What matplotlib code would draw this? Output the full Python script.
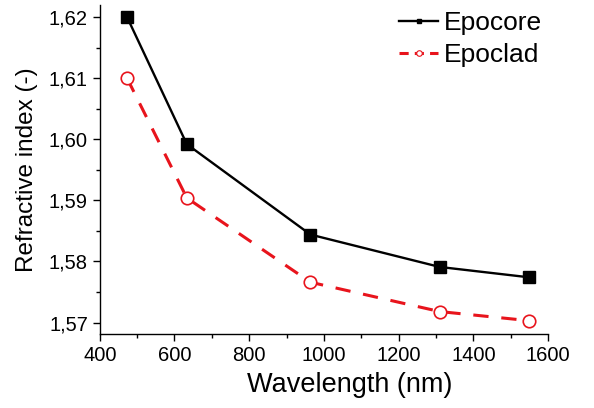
import matplotlib
matplotlib.use("Agg")
import matplotlib.pyplot as plt
from matplotlib.lines import Line2D
from matplotlib.ticker import MultipleLocator, FuncFormatter

plt.rcParams["font.family"] = ["Liberation Sans", "DejaVu Sans"]

# Data
wavelength = [473, 633, 964, 1310, 1550]
epocore = [1.6200, 1.5992, 1.5844, 1.5791, 1.5774]
epoclad = [1.6100, 1.5904, 1.5766, 1.5718, 1.5703]

fig = plt.figure(figsize=(5.94, 4.08), dpi=100)
ax = fig.add_axes([0.168, 0.181, 0.9226 - 0.168, 0.988 - 0.181])

ax.plot(wavelength, epocore, color="black", lw=1.7, marker="s",
        markersize=8, markerfacecolor="black", markeredgecolor="black")
ax.plot(wavelength, epoclad, color="#e8141c", lw=2.2, linestyle=(0, (5, 4.2)),
        marker="o", markersize=9, markerfacecolor="white",
        markeredgecolor="#e8141c", markeredgewidth=1.2)

ax.set_xlim(400, 1600)
ax.set_ylim(1.5681, 1.622)
ax.xaxis.set_major_locator(MultipleLocator(200))
ax.xaxis.set_minor_locator(MultipleLocator(100))
ax.yaxis.set_major_locator(MultipleLocator(0.01))
ax.yaxis.set_minor_locator(MultipleLocator(0.005))
ax.yaxis.set_major_formatter(FuncFormatter(lambda v, p: f"{v:.2f}".replace(".", ",")))

for s in ["top", "right"]:
    ax.spines[s].set_visible(False)
for s in ["left", "bottom"]:
    ax.spines[s].set_linewidth(1.0)
ax.tick_params(which="major", direction="out", length=5, width=1.0, labelsize=14.5)
ax.tick_params(which="minor", direction="out", length=3, width=1.0)

ax.set_xlabel("Wavelength (nm)", fontsize=19.5)
ax.set_ylabel("Refractive index (-)", fontsize=17.5)
ax.xaxis.set_label_coords(0.558, -0.115)
ax.yaxis.set_label_coords(-0.137, 0.5)

handles = [
    Line2D([], [], color="black", lw=1.7, marker="s", markersize=3),
    Line2D([], [], color="#e8141c", lw=2.2, linestyle=(0, (3, 2)), marker="o",
           markersize=4, markerfacecolor="white", markeredgecolor="#e8141c",
           markeredgewidth=0.8),
]
ax.legend(handles, ["Epocore", "Epoclad"], loc="upper left",
          bbox_to_anchor=(0.667, 0.982), frameon=False, fontsize=19,
          borderpad=0, borderaxespad=0, handlelength=1.5, handletextpad=0.2,
          labelspacing=0.3)

fig.savefig("out.png", dpi=100)
